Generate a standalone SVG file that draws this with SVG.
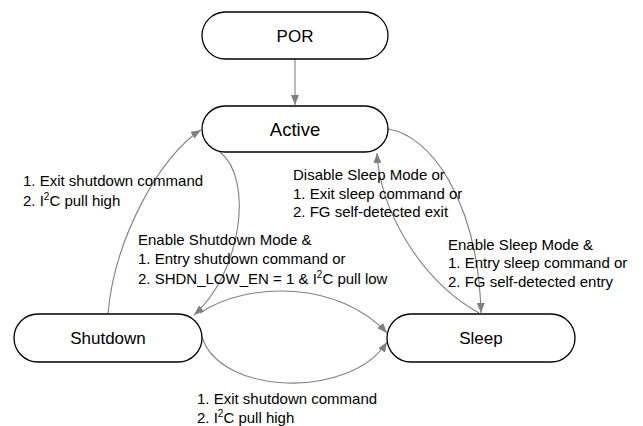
<svg xmlns="http://www.w3.org/2000/svg" width="643" height="426" viewBox="0 0 643 426">
<style>
.node rect{fill:#fff;stroke:#000;stroke-width:1.3}
.node text{font-family:"Liberation Sans",Arial,sans-serif;fill:#000;text-anchor:middle}
.edge{fill:none;stroke:#808080;stroke-width:1.1}
.lbl{font-family:"Liberation Sans",Arial,sans-serif;font-size:15px;fill:#000}
</style>
<defs>
<marker id="arr" viewBox="0 0 10 8" refX="10" refY="4" markerWidth="10" markerHeight="8" markerUnits="userSpaceOnUse" orient="auto">
<path d="M0,0 L10,4 L0,8 Z" fill="#808080"/>
</marker>
</defs>
<rect width="643" height="426" fill="#fff"/>
<g id="connectors">
<path class="edge" d="M295,59 L295,105" marker-end="url(#arr)"/>
<path class="edge" d="M108,314 C114,240 160,155 201,130" marker-end="url(#arr)"/>
<path class="edge" d="M220,152 C255,180 240,275 194,315" marker-end="url(#arr)"/>
<path class="edge" d="M200,313 C250,280 340,282 387,333" marker-end="url(#arr)"/>
<path class="edge" d="M202,337 C220,395 350,400 387,342" marker-end="url(#arr)"/>
<path class="edge" d="M388,129 C430,135 478,200 481,313" marker-end="url(#arr)"/>
<path class="edge" d="M479,313 C420,280 380,210 377,153" marker-end="url(#arr)"/>
</g>
<g id="labels">
<text class="lbl" x="23" y="186">1. Exit shutdown command</text>
<text class="lbl" x="23" y="206">2. I<tspan font-size="10" dy="-6">2</tspan><tspan dy="6">C pull high</tspan></text>
<text class="lbl" x="138" y="245">Enable Shutdown Mode &amp;</text>
<text class="lbl" x="138" y="264">1. Entry shutdown command or</text>
<text class="lbl" x="138" y="284">2. SHDN_LOW_EN = 1 &amp; I<tspan font-size="10" dy="-6">2</tspan><tspan dy="6">C pull low</tspan></text>
<text class="lbl" x="293" y="180">Disable Sleep Mode or</text>
<text class="lbl" x="293" y="199">1. Exit sleep command or</text>
<text class="lbl" x="293" y="217">2. FG self-detected exit</text>
<text class="lbl" x="448" y="250">Enable Sleep Mode &amp;</text>
<text class="lbl" x="448" y="268">1. Entry sleep command or</text>
<text class="lbl" x="448" y="287">2. FG self-detected entry</text>
<text class="lbl" x="197" y="404">1. Exit shutdown command</text>
<text class="lbl" x="197" y="423">2. I<tspan font-size="10" dy="-6">2</tspan><tspan dy="6">C pull high</tspan></text>
</g>
<g id="node-por" class="node">
<rect x="202" y="12" width="186" height="47" rx="23.5"/>
<text x="295" y="41.5" font-size="17">POR</text>
</g>
<g id="node-active" class="node">
<rect x="202" y="106" width="186" height="46" rx="23"/>
<text x="295" y="135.5" font-size="18.5">Active</text>
</g>
<g id="node-shutdown" class="node">
<rect x="14" y="314" width="188" height="48" rx="24"/>
<text x="108" y="344" font-size="17">Shutdown</text>
</g>
<g id="node-sleep" class="node">
<rect x="387" y="314" width="188" height="48" rx="24"/>
<text x="481" y="344" font-size="17">Sleep</text>
</g>
</svg>
